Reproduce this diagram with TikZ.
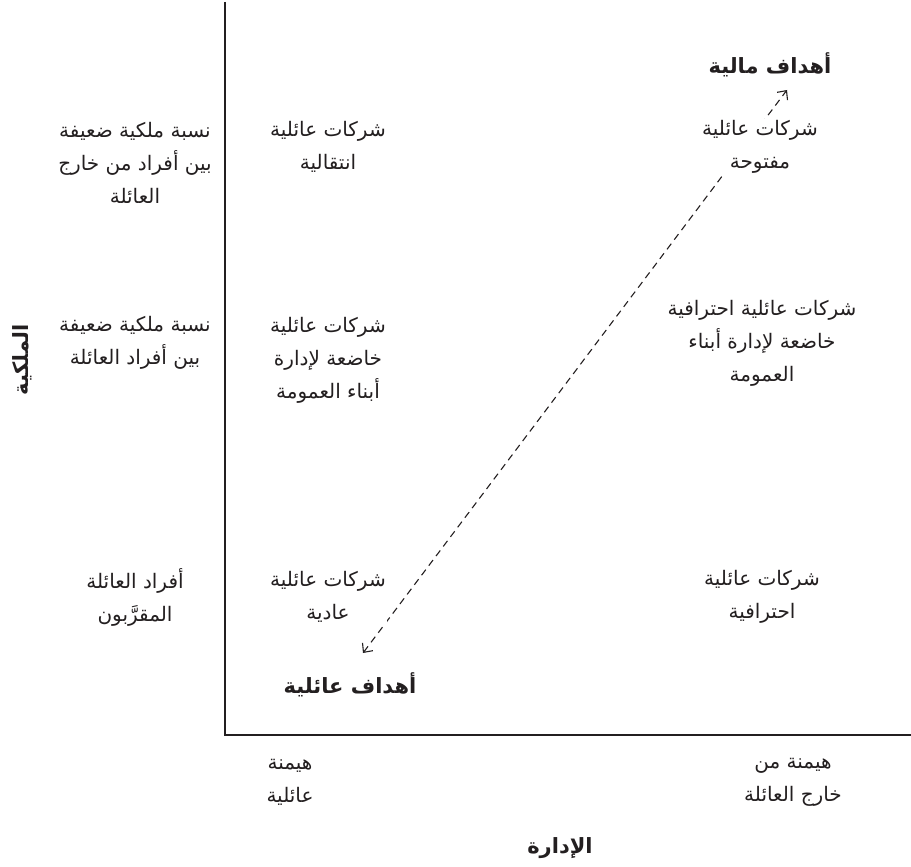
\documentclass[tikz,border=0pt]{standalone}
\usepackage{fontspec}
\usepackage{xcolor}
\usetikzlibrary{arrows.meta}
\TeXXeTstate=1
\newfontfamily\arabicfont[Script=Arabic]{DejaVu Sans}
\definecolor{AxisInk}{HTML}{231F20}
\newcommand{\rl}[1]{\beginR #1\endR}

\begin{document}
\begin{tikzpicture}[x=1pt,y=-1pt,
    cell/.style={font=\arabicfont\fontsize{20}{33}\selectfont, align=center, fill=white, inner sep=1pt, text=AxisInk},
    goal/.style={font=\arabicfont\bfseries\fontsize{21}{33}\selectfont, inner sep=1pt, text=AxisInk}
  ]
    \useasboundingbox (0,0) rectangle (911,867);

    % axes
    \coordinate (top) at (225,2);
    \coordinate (origin) at (225,735);
    \coordinate (right) at (911,735);
    \draw[AxisInk, line width=1.4pt] (top) -- (origin) -- (right);

    % goal arrow
    \coordinate (familyend) at (363,653);
    \coordinate (financeend) at (787,90);
    \draw[AxisInk, line width=1.1pt, dash pattern=on 7pt off 5pt,
      {Straight Barb[length=7pt,width=13pt]}-{Straight Barb[length=7pt,width=13pt]}]
      (familyend) -- (financeend);

    % ownership (left column)
    \node[cell] (ownout) at (135,163) {\rl{نسبة ملكية ضعيفة}\\\rl{بين أفراد من خارج}\\\rl{العائلة}};
    \node[cell] (ownfam) at (135,343) {\rl{نسبة ملكية ضعيفة}\\\rl{بين أفراد العائلة}};
    \node[cell] (ownnear) at (135,597) {\rl{أفراد العائلة}\\\rl{المقرَّبون}};

    % family management column
    \node[cell] (transit) at (328,147) {\rl{شركات عائلية}\\\rl{انتقالية}};
    \node[cell] (cousin) at (328,360) {\rl{شركات عائلية}\\\rl{خاضعة لإدارة}\\\rl{أبناء العمومة}};
    \node[cell] (plain) at (328,597) {\rl{شركات عائلية}\\\rl{عادية}};

    % outside management column
    \node[cell] (open) at (760,147) {\rl{شركات عائلية}\\\rl{مفتوحة}};
    \node[cell] (procousin) at (762,343) {\rl{شركات عائلية احترافية}\\\rl{خاضعة لإدارة أبناء}\\\rl{العمومة}};
    \node[cell] (pro) at (762,597) {\rl{شركات عائلية}\\\rl{احترافية}};

    % goals
    \node[goal] (finance) at (770,65) {\rl{أهداف مالية}};
    \node[goal] (familygoal) at (350,685) {\rl{أهداف عائلية}};

    % management axis
    \node[cell] (mgfam) at (290,782) {\rl{هيمنة}\\\rl{عائلية}};
    \node[cell] (mgout) at (793,782) {\rl{هيمنة من}\\\rl{خارج العائلة}};
    \node[goal] (mgaxis) at (560,848) {\rl{الإدارة}};
    \node[goal, rotate=90] (ownaxis) at (22,360) {\rl{الملكية}};
  \end{tikzpicture}
\end{document}
